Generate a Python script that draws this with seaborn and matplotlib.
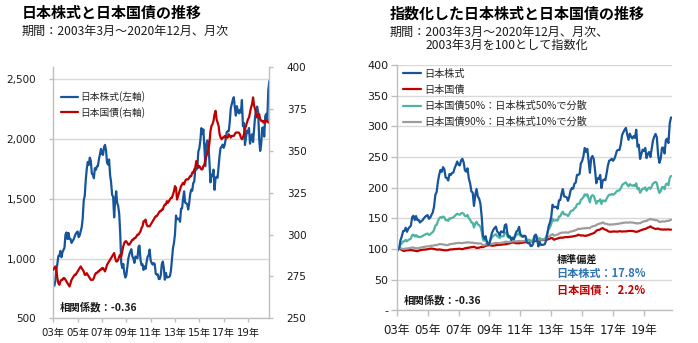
import numpy as np
import pandas as pd
import matplotlib
matplotlib.use("Agg")
import matplotlib.pyplot as plt
from matplotlib.ticker import FuncFormatter
import seaborn as sns

# Monthly values, March 2003 - December 2020
stock = [
    790, 772, 811, 906, 955, 1021, 1024, 1064, 1011, 1051,                # 2003 (Mar-Dec)
    1072, 1089, 1199, 1218, 1163, 1214, 1163, 1164, 1131, 1147, 1159, 1183,  # 2004
    1204, 1218, 1226, 1179, 1193, 1230, 1261, 1335, 1486, 1524, 1655, 1749,  # 2005
    1808, 1783, 1844, 1816, 1710, 1705, 1672, 1756, 1742, 1771, 1774, 1832,  # 2006
    1871, 1917, 1876, 1867, 1932, 1951, 1904, 1802, 1786, 1829, 1699, 1637,  # 2007
    1532, 1517, 1345, 1486, 1563, 1465, 1440, 1374, 1207, 962, 921, 955,     # 2008
    881, 841, 860, 933, 999, 1036, 1060, 1078, 1016, 1000, 964, 1017,        # 2009
    1010, 1002, 1098, 1108, 988, 945, 952, 905, 934, 914, 970, 1015,         # 2010
    1028, 1075, 984, 963, 949, 962, 954, 874, 864, 868, 828, 830,            # 2011
    861, 953, 975, 919, 823, 880, 842, 844, 845, 853, 897, 989,              # 2012
    1086, 1131, 1204, 1360, 1329, 1331, 1333, 1308, 1417, 1421, 1503, 1562,  # 2013
    1468, 1462, 1456, 1410, 1462, 1541, 1576, 1567, 1632, 1644, 1744, 1745,  # 2014
    1757, 1895, 1923, 1987, 2091, 2041, 2080, 1929, 1772, 1958, 1988, 1949,  # 2015
    1806, 1637, 1701, 1694, 1744, 1575, 1674, 1684, 1676, 1766, 1864, 1928,  # 2016
    1934, 1953, 1926, 1950, 1999, 2057, 2066, 2065, 2141, 2257, 2294, 2327,  # 2017
    2350, 2263, 2196, 2275, 2236, 2214, 2244, 2221, 2326, 2107, 2134, 1950,  # 2018
    2014, 2070, 2054, 2092, 1961, 2016, 2039, 1975, 2077, 2187, 2237, 2272,  # 2019
    2226, 2002, 1900, 1954, 2094, 2096, 2020, 2192, 2211, 2155, 2406, 2485,  # 2020
]

bond = [
    279, 280, 281, 279, 274, 271, 270, 272, 273, 273,                        # 2003 (Mar-Dec)
    274, 274, 273, 272, 271, 270, 269, 271, 273, 274, 275, 276,              # 2004
    276, 277, 278, 279, 280, 281, 280, 279, 278, 276, 276, 277,              # 2005
    276, 275, 274, 273, 273, 273, 274, 276, 277, 277, 278, 278,              # 2006
    279, 279, 280, 280, 279, 278, 280, 282, 283, 284, 285, 286,              # 2007
    287, 288, 289, 286, 284, 284, 285, 287, 288, 287, 290, 293,              # 2008
    295, 296, 296, 295, 294, 294, 295, 296, 297, 297, 298, 298,              # 2009
    299, 300, 300, 301, 302, 304, 305, 308, 308, 309, 306, 305,              # 2010
    305, 305, 306, 307, 308, 309, 310, 311, 311, 312, 313, 314,              # 2011
    314, 315, 315, 317, 318, 318, 320, 319, 320, 321, 322, 322,              # 2012
    324, 326, 329, 328, 321, 323, 325, 327, 329, 330, 331, 330,              # 2013
    332, 333, 333, 333, 334, 335, 335, 337, 337, 339, 340, 344,              # 2014
    342, 340, 341, 340, 339, 339, 341, 342, 345, 347, 349, 351,              # 2015
    355, 362, 365, 366, 368, 372, 374, 369, 367, 365, 360, 358,              # 2016
    357, 358, 358, 359, 358, 358, 358, 360, 359, 358, 359, 359,              # 2017
    359, 360, 361, 361, 361, 361, 360, 358, 357, 358, 360, 363,              # 2018
    365, 367, 369, 370, 373, 376, 378, 382, 377, 375, 372, 370,              # 2019
    371, 372, 369, 368, 368, 367, 368, 367, 368, 368, 367, 367,              # 2020
]

year_labels = ["03年", "05年", "07年", "09年", "11年", "13年", "15年", "17年", "19年"]
stock_ticks = [500, 1000, 1500, 2000, 2500]
bond_ticks = [250, 275, 300, 325, 350, 375, 400]
index_ticks = [0, 50, 100, 150, 200, 250, 300, 350, 400]

series_names = ["日本株式", "日本国債",
                "日本国債50%：日本株式50%で分散",
                "日本国債90%：日本株式10%で分散"]
std_stock = 17.8
std_bond = 2.2
correlation = -0.36

BLUE = "#17559A"
RED = "#C00000"
TEAL = "#4DB3A2"
GRAY = "#9C9C9C"
GRID = "#D9D9D9"
SPINE = "#BFBFBF"
TXT = "#1A1A1A"

sns.set_theme(style="white")
plt.rcParams["font.family"] = ["DejaVu Sans", "Noto Sans CJK JP"]
JP = ["Noto Sans CJK JP", "DejaVu Sans"]

W, H = 698, 343
fig = plt.figure(figsize=(W / 100, H / 100), dpi=100)
fig.patch.set_facecolor("white")


def frame(x0, y_top, x1, y_bot):
    return [x0 / W, 1 - y_bot / H, (x1 - x0) / W, (y_bot - y_top) / H]


months = np.arange(len(stock))
tick_pos = np.arange(0, len(stock), 24)[:len(year_labels)]

# ---------- left: levels on two axes ----------
ax1 = fig.add_axes(frame(53.3, 67.3, 269.3, 318.3))
ax2 = ax1.twinx()
sns.lineplot(x=months, y=stock, ax=ax1, color=BLUE, lw=1.6)
sns.lineplot(x=months, y=bond, ax=ax2, color=RED, lw=1.6)

ax1.set_xlim(0, len(stock) - 1)
ax1.set_ylim(500, 2600)
ax1.set_yticks(stock_ticks)
ax1.yaxis.set_major_formatter(FuncFormatter(lambda v, p: f"{v:,.0f}"))
ax2.set_ylim(250, 400)
ax2.set_yticks(bond_ticks)
ax1.set_xticks(tick_pos)
ax1.set_xticklabels(year_labels)
ax1.grid(axis="y", color=GRID, lw=1)
ax1.grid(axis="x", visible=False)
ax2.grid(False)
for a in (ax1, ax2):
    a.set_xlabel("")
    a.set_ylabel("")
    for s in a.spines.values():
        s.set_color(SPINE)
        s.set_linewidth(1)
    a.spines["top"].set_visible(False)
ax1.spines["right"].set_visible(False)
ax2.spines["left"].set_visible(False)
ax2.spines["bottom"].set_visible(False)
ax1.tick_params(axis="y", length=3, width=1, color=SPINE, pad=9.5,
                labelsize=7.5, labelcolor=TXT, left=True)
ax1.tick_params(axis="x", length=3, width=1, color=SPINE, pad=4,
                labelsize=7.3, labelcolor=TXT, bottom=True)
ax2.tick_params(axis="y", length=3, width=1, color=SPINE, pad=9.5,
                labelsize=7.5, labelcolor=TXT, right=True)

h1 = ax1.lines[0]
h2 = ax2.lines[0]
ax2.legend([h1, h2], ["日本株式(左軸)", "日本国債(右軸)"],
           loc="upper left", bbox_to_anchor=(0.035, 0.905),
           frameon=False, handlelength=1.75,
           handletextpad=0.2, labelspacing=0.5, borderpad=0,
           borderaxespad=0, prop={"family": JP, "size": 7})

fig.text(60 / W, 1 - 307.3 / H, f"相関係数：{correlation:.2f}",
         family=JP, fontsize=7.5, fontweight="bold", color=TXT, va="center")

# ---------- right: indexed to 100 ----------
stock_arr = np.array(stock, dtype=float)
bond_arr = np.array(bond, dtype=float)
stock_ret = stock_arr[1:] / stock_arr[:-1] - 1
bond_ret = bond_arr[1:] / bond_arr[:-1] - 1


def rebalanced(bond_weight):
    r = bond_weight * bond_ret + (1 - bond_weight) * stock_ret
    return 100 * np.concatenate([[1.0], np.cumprod(1 + r)])


indexed = pd.DataFrame({
    "month": np.tile(months, 4),
    "value": np.concatenate([
        stock_arr / stock_arr[0] * 100,
        bond_arr / bond_arr[0] * 100,
        rebalanced(0.5),
        rebalanced(0.9),
    ]),
    "series": np.repeat(series_names, len(months)),
})

ax3 = fig.add_axes(frame(396.7, 65.0, 672.3, 310.3))
palette = dict(zip(series_names, [BLUE, RED, TEAL, GRAY]))
draw_order = [series_names[1], series_names[3], series_names[2], series_names[0]]
for name in draw_order:
    sub = indexed[indexed["series"] == name]
    sns.lineplot(data=sub, x="month", y="value", ax=ax3,
                 color=palette[name], lw=1.6, label=name, legend=False)

ax3.set_xlim(0, len(stock))
ax3.set_ylim(0, 400)
ax3.set_yticks(index_ticks)
ax3.yaxis.set_major_formatter(FuncFormatter(lambda v, p: "-" if v == 0 else f"{v:.0f}"))
ax3.set_xticks(tick_pos)
ax3.set_xticklabels(year_labels)
ax3.set_xlabel("")
ax3.set_ylabel("")
ax3.grid(axis="y", color=GRID, lw=1)
ax3.grid(axis="x", visible=False)
for s in ax3.spines.values():
    s.set_color(SPINE)
    s.set_linewidth(1)
ax3.spines["top"].set_visible(False)
ax3.spines["right"].set_visible(False)
ax3.tick_params(axis="y", length=4, width=1, color=SPINE, pad=2,
                labelsize=8, labelcolor=TXT, left=True)
ax3.tick_params(axis="x", length=4, width=1, color=SPINE, pad=6,
                labelsize=8.5, labelcolor=TXT, bottom=True)

handles = {ln.get_label(): ln for ln in ax3.lines}
ax3.legend([handles[n] for n in series_names], series_names,
           loc="upper left", bbox_to_anchor=(0.023, 0.985),
           frameon=False, handlelength=1.75, handletextpad=0.35,
           labelspacing=0.6, borderpad=0, borderaxespad=0,
           prop={"family": JP, "size": 7.3})

fig.text(403.3 / W, 1 - 300 / H, f"相関係数：{correlation:.2f}",
         family=JP, fontsize=7.5, fontweight="bold", color=TXT, va="center")
fig.text(556.7 / W, 1 - 259.3 / H, "標準偏差",
         family=JP, fontsize=7.3, fontweight="bold", color=TXT, va="center")
fig.text(556.7 / W, 1 - 273.3 / H, f"日本株式：{std_stock:.1f}%",
         family=JP, fontsize=8, fontweight="bold", color="#2E74B5", va="center")
fig.text(556.7 / W, 1 - 290 / H, f"日本国債：  {std_bond:.1f}%",
         family=JP, fontsize=8, fontweight="bold", color=RED, va="center")

# ---------- titles ----------
fig.text(21.7 / W, 1 - 13.3 / H, "日本株式と日本国債の推移",
         family=JP, fontsize=10.8, fontweight="bold", color="black", va="center")
fig.text(21.7 / W, 1 - 31.7 / H, "期間：2003年3月～2020年12月、月次",
         family=JP, fontsize=8.7, color=TXT, va="center")
fig.text(390 / W, 1 - 13.3 / H, "指数化した日本株式と日本国債の推移",
         family=JP, fontsize=10.8, fontweight="bold", color="black", va="center")
fig.text(390 / W, 1 - 32.3 / H, "期間：2003年3月～2020年12月、月次、",
         family=JP, fontsize=8.7, color=TXT, va="center")
fig.text(425 / W, 1 - 45 / H, "2003年3月を100として指数化",
         family=JP, fontsize=8.7, color=TXT, va="center")

fig.savefig("out.png", dpi=100)
